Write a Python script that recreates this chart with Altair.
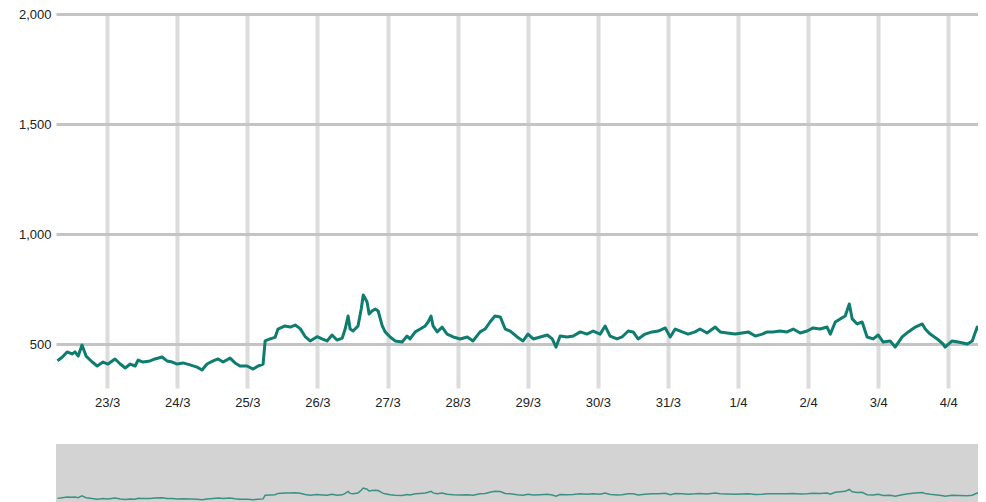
import altair as alt
import pandas as pd

START = "2020-03-22 00:00"

hours = [
    7, 8.6, 10.3, 12.0, 13.0, 14.1, 15.4, 16.8, 18.9, 20.6,
    22.6, 24.3, 26.7, 28.5, 30.2, 31.9, 33.6, 34.6, 36.3, 38.7,
    40.4, 42.8, 44.5, 46.3, 48.0, 50.0, 52.4, 54.8, 56.5, 58.2,
    60.3, 62.0, 63.7, 66.1, 67.8, 69.5, 71.9, 74.0, 75.7, 77.4,
    78.1, 79.8, 81.5, 82.5, 84.9, 86.7, 88.4, 90.1, 91.8, 93.5,
    95.9, 97.6, 99.3, 101.0, 102.7, 104.5, 105.5, 106.5, 107.2, 108.2,
    109.9, 111.0, 111.7, 113.0, 113.7, 114.7, 115.8, 116.8, 118.2, 119.2,
    120.9, 122.6, 125.0, 126.7, 127.7, 129.5, 131.2, 132.9, 133.9, 134.9,
    135.6, 137.0, 138.7, 140.4, 142.5, 144.9, 147.3, 149.3, 151.7, 153.4,
    155.1, 156.8, 158.6, 160.3, 162.0, 164.4, 166.4, 168.1, 169.9, 172.3,
    174.7, 176.4, 177.7, 179.1, 181.5, 183.6, 186.0, 188.3, 190.4, 192.8,
    194.5, 196.2, 198.6, 200.3, 202.4, 204.1, 205.8, 208.2, 210.6, 212.7,
    215.1, 216.8, 218.5, 220.9, 222.9, 225.3, 227.0, 229.4, 232.2, 233.9,
    236.3, 239.0, 241.4, 243.5, 245.9, 248.3, 250.0, 252.0, 254.4, 256.8,
    258.9, 261.3, 263.7, 265.7, 268.1, 270.5, 271.6, 273.3, 275.0, 276.7,
    278.1, 279.1, 280.8, 282.5, 284.2, 286.3, 288.0, 289.7, 292.1, 293.8,
    296.2, 298.3, 300.7, 303.1, 304.1, 305.8, 308.2, 310.2, 310.9, 313.3,
    315.4, 318.5, 320.2, 321.9, 322.9, 324.0, 325.0,
]

values = [
    424, 440, 464, 455, 464, 445, 495, 445, 418, 400,
    418, 409, 432, 409, 391, 409, 400, 427, 418, 423,
    432, 441, 423, 418, 409, 414, 405, 395, 382, 409,
    423, 432, 418, 436, 414, 400, 400, 386, 400, 409,
    514, 523, 530, 568, 582, 577, 586, 570, 534, 514,
    533, 523, 514, 541, 518, 527, 568, 627, 568, 559,
    582, 659, 723, 691, 636, 650, 659, 650, 582, 555,
    532, 514, 509, 536, 523, 555, 568, 582, 600, 627,
    582, 555, 577, 545, 532, 523, 532, 514, 555, 568,
    600, 627, 623, 568, 559, 532, 514, 545, 523, 532,
    541, 523, 486, 536, 532, 536, 555, 545, 559, 545,
    582, 536, 523, 532, 559, 555, 523, 545, 555, 559,
    573, 532, 568, 555, 545, 555, 568, 550, 577, 555,
    550, 545, 550, 555, 536, 545, 555, 555, 559, 555,
    568, 550, 559, 573, 568, 577, 545, 600, 614, 627,
    682, 614, 591, 600, 532, 523, 541, 509, 514, 486,
    532, 555, 577, 591, 568, 545, 523, 500, 486, 514,
    509, 500, 514, 577, 559, 605, 618,
]

y_ticks = [500, 1000, 1500, 2000]

df = pd.DataFrame({
    "time": pd.Timestamp(START) + pd.to_timedelta(hours, unit="h"),
    "value": values,
})

# visible window: 22/3 06:30 to 4/4 ~10:10
x_domain = [
    alt.DateTime(year=2020, month=3, date=22, hours=6, minutes=30),
    alt.DateTime(year=2020, month=4, date=4, hours=10, minutes=10),
]

FONT = "Liberation Sans"
W = 922

main = alt.Chart(df).mark_line(
    color="#0e7c6e", strokeWidth=3, strokeJoin="round", clip=True
).encode(
    x=alt.X(
        "time:T",
        scale=alt.Scale(domain=x_domain, nice=False),
        axis=alt.Axis(
            title=None, format="%-d/%-m",
            tickCount={"interval": "day", "step": 1},
            grid=True, gridColor="#dcdcdc", gridWidth=4,
            ticks=False, domain=False, labelPadding=8,
            labelFontSize=13, labelColor="#222222", labelFont=FONT,
            labelFlush=False, minExtent=30, maxExtent=30,
        ),
    ),
    y=alt.Y(
        "value:Q",
        scale=alt.Scale(domain=[300, 2000], nice=False, zero=False),
        axis=alt.Axis(
            title=None, values=y_ticks, format=",.0f",
            grid=True, gridColor="#c4c4c4", gridWidth=3,
            ticks=False, domain=False, labelPadding=5,
            labelFontSize=13, labelColor="#222222", labelFont=FONT,
            minExtent=48, maxExtent=48,
        ),
    ),
).properties(width=W, height=374)

nav = alt.Chart(df).mark_line(
    color="#3a9184", strokeWidth=1.5, clip=True
).encode(
    x=alt.X("time:T", scale=alt.Scale(domain=x_domain, nice=False), axis=None),
    y=alt.Y(
        "value:Q",
        scale=alt.Scale(domain=[0, 2000], nice=False),
        axis=alt.Axis(
            title=None, labels=False, ticks=False, domain=False, grid=False,
            minExtent=48, maxExtent=48,
        ),
    ),
).properties(
    width=W, height=69,
    view=alt.ViewBackground(fill="#d3d3d3", stroke=None),
)

chart = alt.vconcat(main, nav, spacing=26).properties(
    padding=0
).configure_view(stroke=None)

chart.save("out.html", embed_options={"renderer": "svg", "actions": False})
